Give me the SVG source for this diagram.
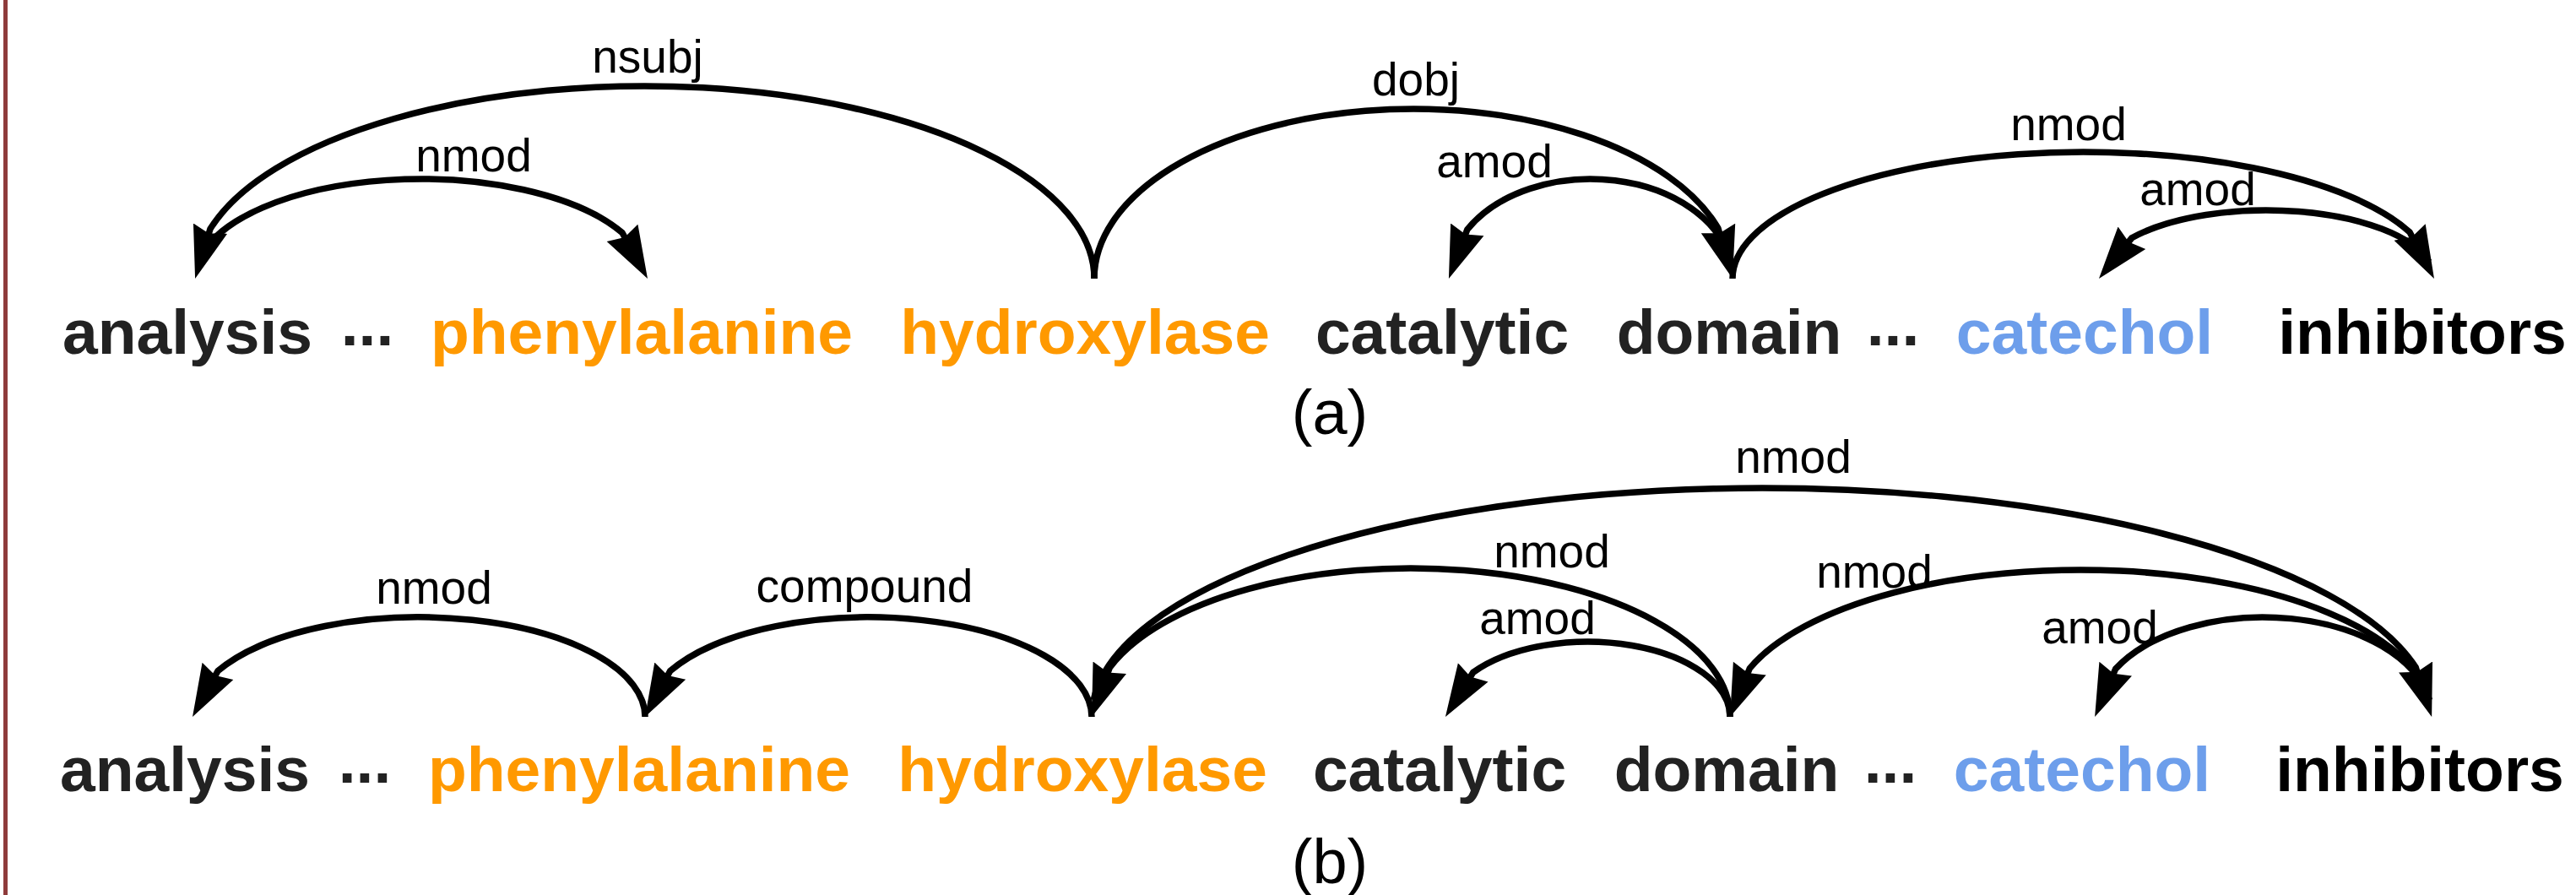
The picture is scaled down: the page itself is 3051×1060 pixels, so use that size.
<svg xmlns="http://www.w3.org/2000/svg" width="3051" height="1060" viewBox="0 0 3051 1060">
  <style>
    .word { font-family: "Liberation Sans", Arial, sans-serif; font-weight: bold; font-size: 75px; text-anchor: middle; }
    .dark { fill: #222222; }
    .black { fill: #000000; }
    .orange { fill: #ff9900; }
    .blue { fill: #6d9eeb; }
    .dots { font-family: "Liberation Sans", Arial, sans-serif; font-weight: bold; font-size: 75px; text-anchor: middle; fill: #222222; }
    .arc { fill: none; stroke: #000000; stroke-width: 7.5; }
    .head { marker-end: url(#arrow); }
    .rel { font-family: "Liberation Sans", Arial, sans-serif; font-size: 55px; text-anchor: middle; fill: #000000; }
    .caption { font-family: "Liberation Sans", Arial, sans-serif; font-size: 74px; text-anchor: middle; fill: #000000; }
  </style>
  <defs>
    <marker id="arrow" viewBox="0 -22 64 44" markerWidth="64" markerHeight="44" markerUnits="userSpaceOnUse" refX="32" refY="0" orient="auto">
      <path d="M0,-21 L62,0 L0,21 L6,0 Z" fill="#000000"/>
    </marker>
  </defs>

  <rect width="3051" height="1060" fill="#ffffff"/>
  <!-- left frame edge -->
  <rect x="4" y="0" width="5" height="1060" fill="#8e3b3b"/>

  <!-- ===== sentence (a) ===== -->
  <g id="a-tokens">
    <g id="a-analysis"><text class="word dark" x="222" y="419">analysis</text></g>
    <g id="a-gap1"><text class="dots" x="435" y="409">...</text></g>
    <g id="a-phenylalanine"><text class="word orange" x="760" y="419">phenylalanine</text></g>
    <g id="a-hydroxylase"><text class="word orange" x="1285" y="419">hydroxylase</text></g>
    <g id="a-catalytic"><text class="word dark" x="1708" y="419">catalytic</text></g>
    <g id="a-domain"><text class="word dark" x="2048" y="419">domain</text></g>
    <g id="a-gap2"><text class="dots" x="2242" y="409">...</text></g>
    <g id="a-catechol"><text class="word blue" x="2469" y="419">catechol</text></g>
    <g id="a-inhibitors"><text class="word black" x="2869" y="419">inhibitors</text></g>
  </g>

  <g id="a-connectors">
    <g id="a-nsubj">
      <path class="arc head" d="M1296,330 A532.5,228 0 0 0 248.9,271.3 L239.8,301.3"/>
      <text class="rel" x="767" y="86">nsubj</text>
    </g>
    <g id="a-nmod-1">
      <path class="arc head" d="M234.9,310 A268,118 0 0 1 737,275.7 L752.5,303.8"/>
      <text class="rel" x="561" y="203">nmod</text>
    </g>
    <g id="a-dobj">
      <path class="arc head" d="M1296,330 A378,201 0 0 1 2035,270.4 L2043.8,301.2"/>
      <text class="rel" x="1677" y="113">dobj</text>
    </g>
    <g id="a-amod-1">
      <path class="arc head" d="M2049.6,310 A168,118 0 0 0 1737.8,271.9 L1726.5,301.9"/>
      <text class="rel" x="1770" y="210">amod</text>
    </g>
    <g id="a-nmod-2">
      <path class="arc head" d="M2052,330 A415.5,150 0 0 1 2854.1,275.1 L2869,303.4"/>
      <text class="rel" x="2450" y="166">nmod</text>
    </g>
    <g id="a-amod-2">
      <path class="arc head" d="M2876.9,310 A198.5,81 0 0 0 2524.9,281.8 L2504.8,306.7"/>
      <text class="rel" x="2603" y="243">amod</text>
    </g>
  </g>

  <g id="a-caption"><text class="caption" x="1575" y="514">(a)</text></g>

  <!-- ===== sentence (b) ===== -->
  <g id="b-tokens">
    <g id="b-analysis"><text class="word dark" x="219" y="937">analysis</text></g>
    <g id="b-gap1"><text class="dots" x="432" y="927">...</text></g>
    <g id="b-phenylalanine"><text class="word orange" x="757" y="937">phenylalanine</text></g>
    <g id="b-hydroxylase"><text class="word orange" x="1282" y="937">hydroxylase</text></g>
    <g id="b-catalytic"><text class="word dark" x="1705" y="937">catalytic</text></g>
    <g id="b-domain"><text class="word dark" x="2045" y="937">domain</text></g>
    <g id="b-gap2"><text class="dots" x="2239" y="927">...</text></g>
    <g id="b-catechol"><text class="word blue" x="2466" y="937">catechol</text></g>
    <g id="b-inhibitors"><text class="word black" x="2866" y="937">inhibitors</text></g>
  </g>

  <g id="b-connectors">
    <g id="b-nmod-1">
      <path class="arc head" d="M764,849 A268,118 0 0 0 258,794.7 L242.5,822.8"/>
      <text class="rel" x="514" y="715">nmod</text>
    </g>
    <g id="b-compound">
      <path class="arc head" d="M1293,849 A264.5,118 0 0 0 793.7,794.7 L778.4,822.7"/>
      <text class="rel" x="1024" y="713">compound</text>
    </g>
    <g id="b-nmod-long">
      <path class="arc head" d="M1295.2,829 A793.5,271 0 0 1 2861.2,790.4 L2870.9,820.4"/>
      <text class="rel" x="2124" y="560">nmod</text>
    </g>
    <g id="b-nmod-2">
      <path class="arc head" d="M2049,849 A378,176 0 0 0 1314.3,790.7 L1303.3,820.8"/>
      <text class="rel" x="1838" y="672">nmod</text>
    </g>
    <g id="b-amod-1">
      <path class="arc head" d="M2049,849 A168.5,89 0 0 0 1744.7,796.4 L1727.8,823.5"/>
      <text class="rel" x="1821" y="751">amod</text>
    </g>
    <g id="b-nmod-3">
      <path class="arc head" d="M2877.3,829 A415.5,174 0 0 0 2072.3,791.6 L2060.3,821.2"/>
      <text class="rel" x="2220" y="696">nmod</text>
    </g>
    <g id="b-amod-2">
      <path class="arc head" d="M2877.1,829 A199.5,118 0 0 0 2505.7,792.1 L2493,821.5"/>
      <text class="rel" x="2487" y="762">amod</text>
    </g>
  </g>

  <g id="b-caption"><text class="caption" x="1575" y="1046">(b)</text></g>
</svg>
